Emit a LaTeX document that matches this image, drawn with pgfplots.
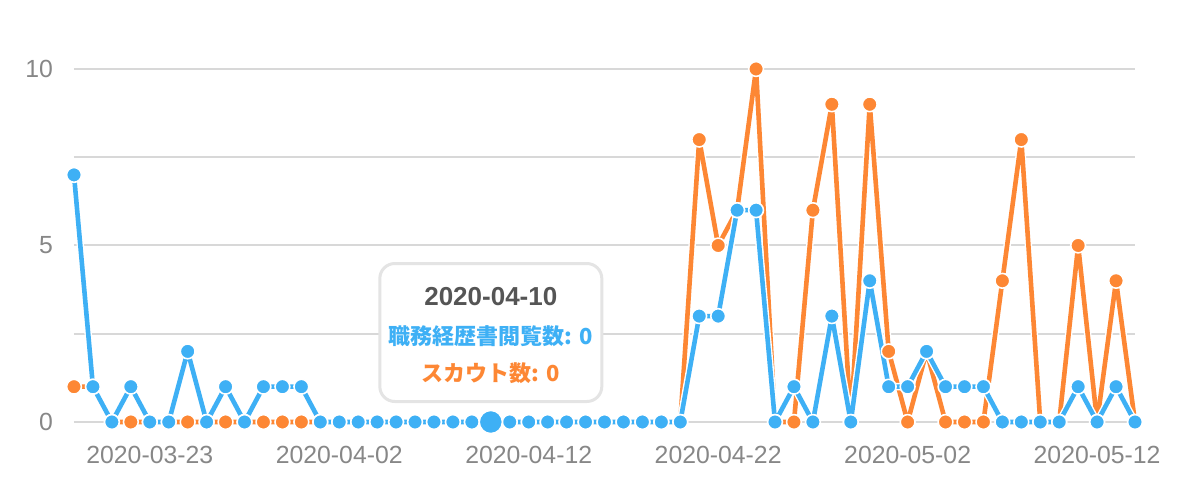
\documentclass[border=0pt]{standalone}
\usepackage{fontspec}
\setmainfont{Liberation Sans}
\newfontfamily\cjk{Noto Sans CJK JP}
\usepackage{pgfplots}
\pgfplotsset{compat=1.18}
\usepackage{pgfplotstable}

\definecolor{viewblue}{RGB}{62,176,245}
\definecolor{scoutorange}{RGB}{253,135,52}
\definecolor{gridgray}{RGB}{216,216,216}
\definecolor{labelgray}{RGB}{135,135,135}
\definecolor{tipborder}{RGB}{228,228,228}
\definecolor{tiptitle}{RGB}{85,85,85}

% day index 0 = 2020-03-19
\pgfplotstableread{
x view scout
0 7 1
1 1 1
2 0 0
3 1 0
4 0 0
5 0 0
6 2 0
7 0 0
8 1 0
9 0 0
10 1 0
11 1 0
12 1 0
13 0 0
14 0 0
15 0 0
16 0 0
17 0 0
18 0 0
19 0 0
20 0 0
21 0 0
22 0 0
23 0 0
24 0 0
25 0 0
26 0 0
27 0 0
28 0 0
29 0 0
30 0 0
31 0 0
32 0 0
33 3 8
34 3 5
35 6 6
36 6 10
37 0 0
38 1 0
39 0 6
40 3 9
41 0 0
42 4 9
43 1 2
44 1 0
45 2 2
46 1 0
47 1 0
48 1 0
49 0 4
50 0 8
51 0 0
52 0 0
53 1 5
54 0 0
55 1 4
56 0 0
}\counts

\begin{document}
\begin{tikzpicture}
\useasboundingbox (-37pt,-37pt) rectangle (563pt,211pt);
\begin{axis}[
    at={(0,0)}, anchor=south west,
    scale only axis, width=530.5pt, height=176.5pt,
    xmin=0, xmax=56, ymin=0, ymax=10,
    axis line style={draw=none},
    tick style={draw=none},
    xtick={4,14,24,34,44,54},
    xticklabels={2020-03-23,2020-04-02,2020-04-12,2020-04-22,2020-05-02,2020-05-12},
    ytick={0,2.5,5,7.5,10},
    yticklabels={0,,5,,10},
    ymajorgrids, grid style={gridgray, line width=1pt},
    tick label style={font=\fontsize{12.4}{14}\selectfont, text=labelgray},
    xticklabel style={yshift=-8.5pt},
    yticklabel style={xshift=-7pt},
    /pgf/number format/assume math mode=true,
    clip=false,
]
% スカウト数
\addplot[white, line width=3.7pt, line join=round, forget plot] table[x=x, y=scout]{\counts};
\addplot[scoutorange, line width=2.3pt, line join=round, mark=*, mark size=3.7pt,
    mark options={fill=scoutorange, draw=white, line width=0.8pt}] table[x=x, y=scout]{\counts};
% 職務経歴書閲覧数
\addplot[white, line width=3.7pt, line join=round, forget plot] table[x=x, y=view]{\counts};
\addplot[viewblue, line width=2.3pt, line join=round, mark=*, mark size=3.7pt,
    mark options={fill=viewblue, draw=white, line width=0.8pt}] table[x=x, y=view]{\counts};
% hovered point
\addplot[only marks, mark=*, mark size=5.8pt, viewblue,
    mark options={fill=viewblue, draw=white, line width=0.8pt}] coordinates {(22,0)};

\node[draw=tipborder, line width=1.5pt, fill=white, rounded corners=7.5pt,
    minimum width=111pt, minimum height=69pt, inner sep=0pt] at (axis cs:22,2.535) {};
\node[anchor=base, text=tiptitle, font=\fontsize{13}{15}\selectfont\bfseries] at (axis cs:22,3.303) {2020-04-10};
\node[anchor=base, text=viewblue, font=\cjk\bfseries\fontsize{11}{13}\selectfont] at (axis cs:22,2.198) {職務経歴書閲覧数: 0};
\node[anchor=base, text=scoutorange, font=\cjk\bfseries\fontsize{11}{13}\selectfont] at (axis cs:22,1.15) {スカウト数: 0};
\end{axis}
\end{tikzpicture}
\end{document}
